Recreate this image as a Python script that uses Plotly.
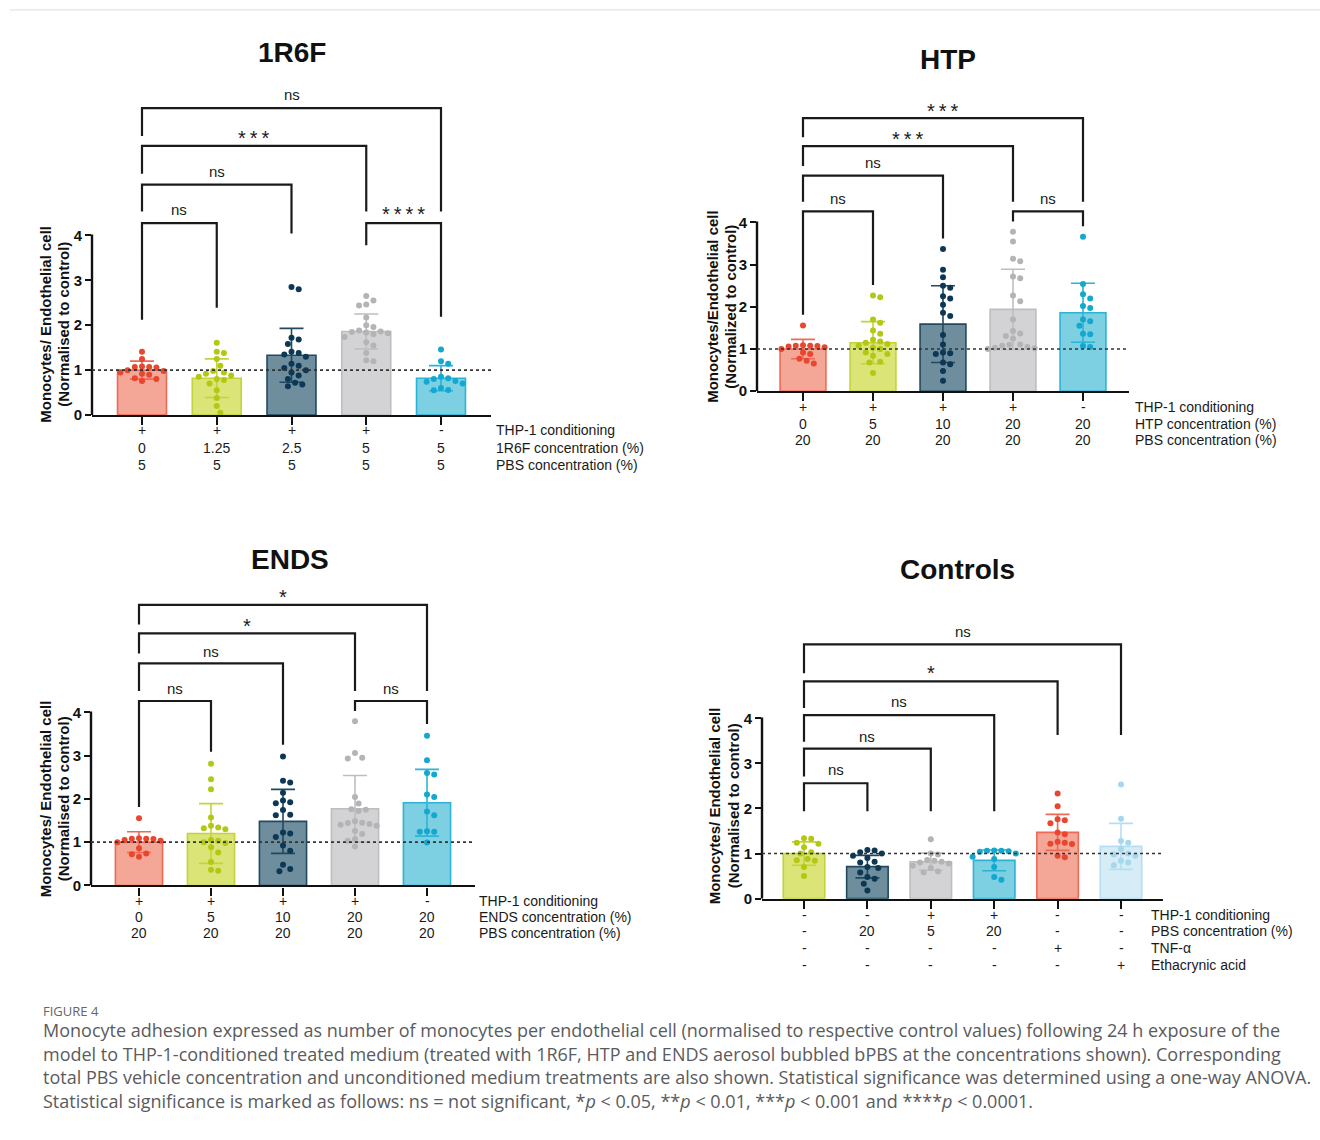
import plotly.graph_objects as go
import math

W, H = 1320, 1140

# ---------------- DATA ----------------
# Panel 1: 1R6F
r6f_thp = ["+", "+", "+", "+", "-"]
r6f_conc = ["0", "1.25", "2.5", "5", "5"]
r6f_pbs = ["5", "5", "5", "5", "5"]
r6f_rows = ["THP-1 conditioning", "1R6F concentration (%)", "PBS concentration (%)"]
r6f_mean = [1.00, 0.82, 1.33, 1.86, 0.82]
r6f_sd = [0.20, 0.43, 0.60, 0.39, 0.28]
r6f_points = [
    [1.41, 1.25, 1.08, 1.07, 1.07, 1.06, 1.00, 0.98, 0.95, 0.92, 0.90, 0.82, 0.80, 0.76],
    [1.61, 1.41, 1.38, 1.25, 1.10, 0.98, 0.95, 0.92, 0.88, 0.85, 0.80, 0.78, 0.70, 0.55, 0.38, 0.20, 0.05],
    [2.85, 2.80, 1.72, 1.68, 1.58, 1.41, 1.38, 1.35, 1.30, 1.14, 1.10, 1.05, 1.00, 0.95, 0.88, 0.80, 0.72, 0.68, 0.64],
    [2.65, 2.55, 2.46, 2.44, 2.17, 2.00, 1.96, 1.88, 1.86, 1.85, 1.84, 1.82, 1.80, 1.74, 1.62, 1.55, 1.38, 1.22, 1.20],
    [1.46, 1.20, 1.14, 0.85, 0.82, 0.80, 0.76, 0.74, 0.70, 0.60, 0.56, 0.55],
]

# Panel 2: HTP
htp_thp = ["+", "+", "+", "+", "-"]
htp_conc = ["0", "5", "10", "20", "20"]
htp_pbs = ["20", "20", "20", "20", "20"]
htp_rows = ["THP-1 conditioning", "HTP concentration (%)", "PBS concentration (%)"]
htp_mean = [1.00, 1.15, 1.59, 1.94, 1.86]
htp_sd = [0.23, 0.50, 0.91, 0.95, 0.70]
htp_points = [
    [1.56, 1.09, 1.08, 1.08, 1.07, 1.06, 1.04, 1.00, 0.92, 0.88, 0.77, 0.72, 0.66],
    [2.27, 2.23, 1.70, 1.62, 1.44, 1.36, 1.22, 1.18, 1.15, 1.12, 1.08, 1.03, 1.00, 0.92, 0.88, 0.84, 0.70, 0.68, 0.43],
    [3.37, 2.88, 2.70, 2.50, 2.45, 2.25, 2.20, 2.05, 1.86, 1.78, 1.33, 1.11, 0.92, 0.90, 0.88, 0.68, 0.64, 0.48, 0.25],
    [3.78, 3.55, 3.14, 3.08, 2.72, 2.68, 2.27, 2.13, 1.70, 1.43, 1.37, 1.31, 1.25, 1.11, 1.10, 1.08, 1.05, 1.03, 1.02, 1.00],
    [3.66, 2.54, 2.30, 2.20, 2.02, 1.97, 1.70, 1.66, 1.55, 1.36, 1.35, 1.07, 1.05],
]

# Panel 3: ENDS
ends_thp = ["+", "+", "+", "+", "-"]
ends_conc = ["0", "5", "10", "20", "20"]
ends_pbs = ["20", "20", "20", "20", "20"]
ends_rows = ["THP-1 conditioning", "ENDS concentration (%)", "PBS concentration (%)"]
ends_mean = [1.00, 1.20, 1.48, 1.77, 1.91]
ends_sd = [0.24, 0.69, 0.74, 0.77, 0.77]
ends_points = [
    [1.55, 1.09, 1.08, 1.08, 1.07, 1.05, 1.03, 1.00, 0.86, 0.74, 0.72, 0.66],
    [2.81, 2.45, 2.22, 1.57, 1.38, 1.34, 1.32, 1.30, 1.05, 1.03, 1.00, 0.98, 0.88, 0.76, 0.54, 0.36, 0.34],
    [2.98, 2.42, 2.38, 2.14, 1.96, 1.92, 1.90, 1.74, 1.63, 1.62, 1.22, 1.20, 1.12, 0.92, 0.80, 0.48, 0.38, 0.33],
    [3.79, 3.06, 2.95, 2.93, 2.04, 1.89, 1.76, 1.75, 1.72, 1.48, 1.45, 1.44, 1.42, 1.40, 1.38, 1.26, 1.19, 1.07, 1.03, 0.90],
    [3.46, 2.89, 2.60, 2.56, 2.10, 2.04, 1.71, 1.62, 1.25, 1.24, 1.24, 0.99],
]

# Panel 4: Controls
ctl_thp = ["-", "-", "+", "+", "-", "-"]
ctl_pbs = ["-", "20", "5", "20", "-", "-"]
ctl_tnf = ["-", "-", "-", "-", "+", "-"]
ctl_eth = ["-", "-", "-", "-", "-", "+"]
ctl_rows = ["THP-1 conditioning", "PBS concentration (%)", "TNF-\u03b1", "Ethacrynic acid"]
ctl_mean = [1.00, 0.71, 0.82, 0.85, 1.47, 1.16]
ctl_sd = [0.26, 0.25, 0.19, 0.23, 0.40, 0.51]
ctl_points = [
    [1.34, 1.33, 1.24, 1.22, 1.14, 1.03, 1.00, 0.88, 0.85, 0.84, 0.70, 0.50],
    [1.08, 1.07, 1.03, 1.00, 0.95, 0.90, 0.82, 0.80, 0.70, 0.68, 0.58, 0.48, 0.44, 0.33, 0.18],
    [1.32, 1.00, 0.98, 0.86, 0.84, 0.82, 0.80, 0.78, 0.73, 0.68, 0.60, 0.58],
    [1.07, 1.06, 1.06, 1.05, 1.04, 1.00, 0.93, 0.88, 0.70, 0.48, 0.42],
    [2.33, 2.05, 1.76, 1.74, 1.67, 1.47, 1.43, 1.26, 1.24, 1.22, 1.21, 0.95, 0.92],
    [2.53, 1.77, 1.28, 1.24, 1.10, 1.00, 0.98, 0.95, 0.84, 0.80, 0.74],
]

caption_lines = [
    "Monocyte adhesion expressed as number of monocytes per endothelial cell (normalised to respective control values) following 24 h exposure of the",
    "model to THP-1-conditioned treated medium (treated with 1R6F, HTP and ENDS aerosol bubbled bPBS at the concentrations shown). Corresponding",
    "total PBS vehicle concentration and unconditioned medium treatments are also shown. Statistical significance was determined using a one-way ANOVA.",
    "Statistical significance is marked as follows: ns = not significant, *<i>p</i> &lt; 0.05, **<i>p</i> &lt; 0.01, ***<i>p</i> &lt; 0.001 and ****<i>p</i> &lt; 0.0001.",
]

# ---------------- STYLE ----------------
COL = {
    "red": ("#F4A697", "#EE6A55", "#E9462F"),
    "yel": ("#DAE477", "#C3D33A", "#B3C814"),
    "dark": ("#6E8D9D", "#22495F", "#0C3855"),
    "grey": ("#D3D3D6", "#BEBEC1", "#B4B4B6"),
    "cyan": ("#7DCFE2", "#2BB4D5", "#12A8CF"),
    "lblue": ("#D6ECF6", "#B5DFF0", "#A5D7EE"),
}
FONT = "Liberation Sans, Arial, sans-serif"
CAPFONT = "Open Sans, sans-serif"

panels = [
    dict(title="1R6F", tx=292, ty=53, c0=142, c1=441, off=50, y0=418, s=45.25, yt=88,
         mean=r6f_mean, sd=r6f_sd, pts=r6f_points,
         colors=["red", "yel", "dark", "grey", "cyan"],
         cols=[r6f_thp, r6f_conc, r6f_pbs], rows=r6f_rows, rowy=[433, 451, 468], rowx=494, fs=14,
         ytitle=["Monocytes/ Endothelial cell", "(Normalised to control)"], ytx=[46, 64], yty=327,
         brackets=[(0, 4, 6.83, 6.21, 4.53, "ns", 7.14), (0, 3, 5.99, 5.37, 4.53, "***", 6.17),
                   (0, 2, 5.13, 4.53, 4.04, "ns", 5.41), (0, 1, 4.27, 2.12, 2.39, "ns", 4.57),
                   (3, 4, 4.27, 3.78, 2.19, "****", 4.47)]),
    dict(title="HTP", tx=948, ty=60, c0=803, c1=1083, off=46, y0=394, s=42.5, yt=100,
         mean=htp_mean, sd=htp_sd, pts=htp_points,
         colors=["red", "yel", "dark", "grey", "cyan"],
         cols=[htp_thp, htp_conc, htp_pbs], rows=htp_rows, rowy=[410, 427, 443], rowx=1133, fs=14,
         ytitle=["Monocytes/Endothelial cell", "(Normalized to control)"], ytx=[713, 731], yty=309,
         brackets=[(0, 4, 6.47, 6.02, 4.49, "***", 6.64), (0, 3, 5.81, 5.34, 4.49, "***", 5.98),
                   (0, 2, 5.11, 4.49, 3.62, "ns", 5.41), (0, 1, 4.26, 1.81, 2.52, "ns", 4.56),
                   (3, 4, 4.26, 4.02, 3.91, "ns", 4.56)]),
    dict(title="ENDS", tx=290, ty=563, c0=139, c1=427, off=48, y0=891.7, s=43.6, yt=590,
         mean=ends_mean, sd=ends_sd, pts=ends_points,
         colors=["red", "yel", "dark", "grey", "cyan"],
         cols=[ends_thp, ends_conc, ends_pbs], rows=ends_rows, rowy=[907, 923, 940], rowx=477, fs=14,
         ytitle=["Monocytes/ Endothelial cell", "(Normalised to control)"], ytx=[45, 63], yty=805,
         brackets=[(0, 4, 6.48, 6.03, 4.49, "*", 6.66), (0, 3, 5.82, 5.36, 4.49, "*", 6.00),
                   (0, 2, 5.13, 4.49, 3.25, "ns", 5.41), (0, 1, 4.26, 1.81, 3.09, "ns", 4.56),
                   (3, 4, 4.26, 4.03, 3.73, "ns", 4.56)]),
    dict(title="Controls", tx=957, ty=574, c0=804, c1=1121, off=42, y0=905, s=45.4, yt=630,
         mean=ctl_mean, sd=ctl_sd, pts=ctl_points,
         colors=["yel", "dark", "grey", "cyan", "red", "lblue"],
         cols=[ctl_thp, ctl_pbs, ctl_tnf, ctl_eth], rows=ctl_rows, rowy=[921, 938, 955, 972], rowx=1149, fs=14,
         ytitle=["Monocytes/ Endothelial cell", "(Normalised to control)"], ytx=[714, 733], yty=812,
         brackets=[(0, 5, 5.64, 5.00, 3.63, "ns", 5.93), (0, 4, 4.82, 4.23, 3.63, "*", 5.01),
                   (0, 3, 4.07, 3.48, 1.94, "ns", 4.38), (0, 2, 3.33, 2.71, 1.94, "ns", 3.59),
                   (0, 1, 2.56, 1.94, 1.94, "ns", 2.86)]),
]


def swarm(vals, sx, sy, d=7.2, step=3.6):
    """Deterministic beeswarm offsets (in x data units)."""
    placed = []
    offs = [0.0] * len(vals)
    order = sorted(range(len(vals)), key=lambda i: -vals[i])
    for i in order:
        py = vals[i] * sy
        k = 0
        while True:
            cands = [0.0] if k == 0 else [k * step, -k * step]
            ok = None
            for c in cands:
                if all(math.hypot(c - qx, py - qy) >= d for qx, qy in placed):
                    ok = c
                    break
            if ok is not None:
                placed.append((ok, py))
                offs[i] = ok / sx
                break
            k += 1
    return offs


fig = go.Figure()
shapes = []
annotations = []
layout_axes = {}

for k, p in enumerate(panels, start=1):
    n = len(p["mean"])
    sp = (p["c1"] - p["c0"]) / (n - 1)
    xl = p["c0"] - p["off"]
    xr = p["c1"] + p["off"]
    ymax = (p["y0"] - p["yt"]) / p["s"]
    xa = "x" if k == 1 else f"x{k}"
    ya = "y" if k == 1 else f"y{k}"
    xname = "xaxis" if k == 1 else f"xaxis{k}"
    yname = "yaxis" if k == 1 else f"yaxis{k}"

    layout_axes[xname] = dict(
        domain=[xl / W, xr / W], range=[-p["off"] / sp, n - 1 + p["off"] / sp],
        showline=True, linecolor="#111", linewidth=2.4, ticks="outside", ticklen=8,
        tickwidth=2.2, tickcolor="#111", tickvals=list(range(n)), showticklabels=False,
        showgrid=False, zeroline=False, anchor=ya, fixedrange=True)
    layout_axes[yname] = dict(
        domain=[1 - p["y0"] / H, 1 - p["yt"] / H], range=[0, ymax],
        tickvals=[0, 1, 2, 3, 4], ticktext=[f"<b>{v}</b>" for v in range(5)],
        ticks="outside", ticklen=6, tickwidth=2.2, tickcolor="#111",
        tickfont=dict(size=15, color="#111", family=FONT),
        showline=False, showgrid=False, zeroline=False, anchor=xa, fixedrange=True)

    for i in range(n):
        fill, edge, dot = COL[p["colors"][i]]
        fig.add_trace(go.Bar(
            x=[i], y=[p["mean"][i]], width=0.655, xaxis=xa, yaxis=ya,
            marker=dict(color=fill, line=dict(color=edge, width=1.6)),
            error_y=dict(type="data", array=[p["sd"][i]], color=edge, thickness=1.6, width=12),
            showlegend=False, hoverinfo="skip"))
        vals = p["pts"][i]
        offs = swarm(vals, sp, p["s"])
        fig.add_trace(go.Scatter(
            x=[i + o for o in offs], y=vals, mode="markers", xaxis=xa, yaxis=ya,
            marker=dict(color=dot, size=6), cliponaxis=False,
            showlegend=False, hoverinfo="skip"))

    # y axis line (0..4)
    shapes.append(dict(type="line", xref=f"{xa} domain", yref=ya, x0=0, x1=0, y0=0, y1=4.02,
                       line=dict(color="#111", width=2.4)))
    # dotted reference line at 1
    shapes.append(dict(type="line", xref=f"{xa} domain", yref=ya, x0=0, x1=1, y0=1, y1=1,
                       line=dict(color="#333", width=1.6, dash="dot")))
    # significance brackets
    for (a, b, top, la, lb, txt, ly) in p["brackets"]:
        shapes.append(dict(type="path", xref=xa, yref=ya,
                           path=f"M {a},{la} L {a},{top} L {b},{top} L {b},{lb}",
                           line=dict(color="#1a1a1a", width=2.2)))
        is_star = txt.startswith("*")
        annotations.append(dict(x=(a + b) / 2, y=ly, xref=xa, yref=ya,
                                text="\u2009".join(txt) if is_star else txt,
                                showarrow=False, xanchor="center", yanchor="middle",
                                font=dict(size=20 if is_star else 15, color="#1a1a1a", family=FONT)))
    # panel title
    annotations.append(dict(x=p["tx"] / W, y=1 - p["ty"] / H, xref="paper", yref="paper",
                            text=f"<b>{p['title']}</b>", showarrow=False,
                            xanchor="center", yanchor="middle",
                            font=dict(size=28, color="#111", family=FONT)))
    # y axis title (two lines)
    for line_txt, lx in zip(p["ytitle"], p["ytx"]):
        annotations.append(dict(x=lx / W, y=1 - p["yty"] / H, xref="paper", yref="paper",
                                text=f"<b>{line_txt}</b>", textangle=-90, showarrow=False,
                                xanchor="center", yanchor="middle",
                                font=dict(size=15, color="#111", family=FONT)))
    # column labels under x axis
    for r, row_vals in enumerate(p["cols"]):
        for i, v in enumerate(row_vals):
            annotations.append(dict(x=i, y=1 - p["rowy"][r] / H, xref=xa, yref="paper",
                                    text=v, showarrow=False, xanchor="center", yanchor="middle",
                                    font=dict(size=p["fs"], color="#1a1a1a", family=FONT)))
        annotations.append(dict(x=p["rowx"] / W, y=1 - p["rowy"][r] / H, xref="paper", yref="paper",
                                text=p["rows"][r], showarrow=False, xanchor="left", yanchor="middle",
                                font=dict(size=p["fs"], color="#1a1a1a", family=FONT)))

# caption
annotations.append(dict(x=41 / W, y=1 - 1018 / H, xref="paper", yref="paper", text="FIGURE 4",
                        showarrow=False, xanchor="left", yanchor="middle",
                        font=dict(size=13, color="#666", family=CAPFONT)))
for j, line_txt in enumerate(caption_lines):
    annotations.append(dict(x=41 / W, y=1 - (1037 + 24 * j) / H, xref="paper", yref="paper",
                            text=line_txt, showarrow=False, xanchor="left", yanchor="middle",
                            font=dict(size=18, color="#5A5B5D", family=CAPFONT)))

# frame line at top
shapes.append(dict(type="line", xref="paper", yref="paper", x0=10 / W, x1=1, y0=1 - 10 / H, y1=1 - 10 / H,
                   line=dict(color="#DDDDDD", width=1)))

fig.update_layout(
    width=W, height=H, margin=dict(l=0, r=0, t=0, b=0),
    paper_bgcolor="white", plot_bgcolor="rgba(0,0,0,0)",
    barmode="overlay", showlegend=False,
    font=dict(family=FONT, color="#111"),
    shapes=shapes, annotations=annotations,
    **layout_axes)

fig.write_html("out.html", config={"displayModeBar": False},
               post_script="document.body.style.margin='0';document.body.style.overflow='hidden';")
